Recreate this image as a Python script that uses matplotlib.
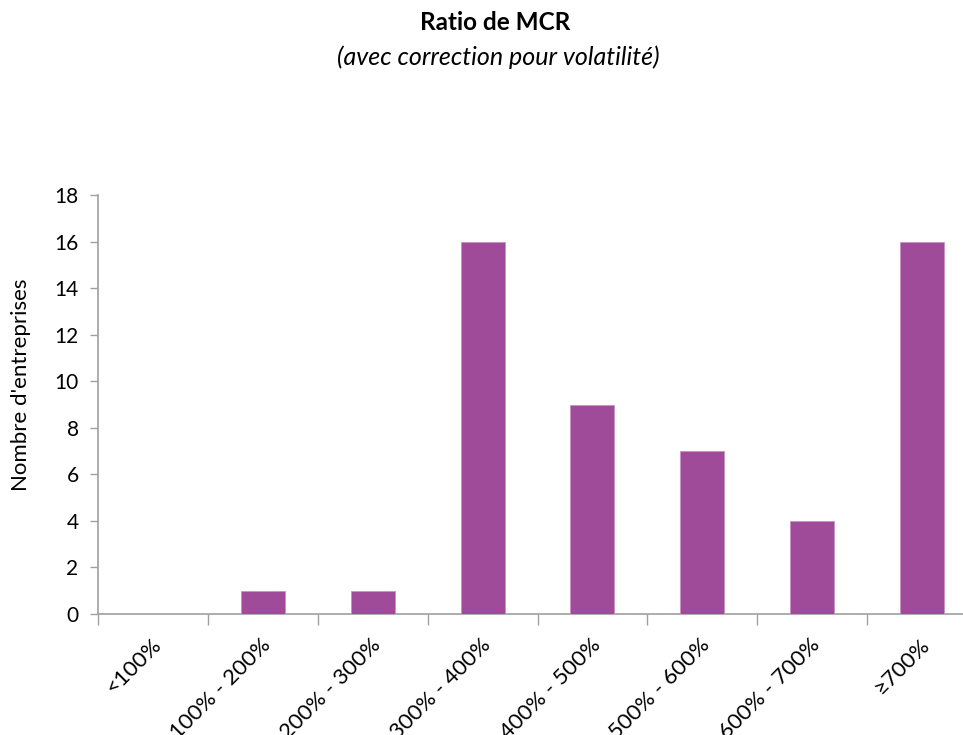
import matplotlib
matplotlib.use("Agg")
import matplotlib.pyplot as plt
import numpy as np

categories = ["<100%", "100% - 200%", "200% - 300%", "300% - 400%",
              "400% - 500%", "500% - 600%", "600% - 700%", "≥700%"]
values = [0, 1, 1, 16, 9, 7, 4, 16]

plt.rcParams['font.family'] = ['Lato', 'DejaVu Sans']

fig = plt.figure(figsize=(9.63, 7.35), dpi=100)
ax = fig.add_axes([98/963, 1-614/735, (977-98)/963, (614-195)/735])

x = np.arange(len(categories))
ax.bar(x, values, width=0.4, color="#A04A9A", edgecolor="#C990C4", linewidth=0.6, zorder=3)

ax.set_xlim(-0.5, len(categories) - 0.5)
ax.set_ylim(0, 18)
ax.set_yticks(np.arange(0, 19, 2))
ax.tick_params(axis='y', labelsize=15, length=6, color="#A0A0A0", width=1, pad=8)

ax.set_xticks(np.arange(-0.5, len(categories) - 0.5 + 0.01, 1.0))
ax.set_xticklabels([])
ax.tick_params(axis='x', length=8, color="#A0A0A0", width=1)
for xi, lab in zip(x, categories):
    ax.annotate(lab, xy=(xi - 0.02, 0), xycoords='data', xytext=(0, -15),
                textcoords='offset points', rotation=45, ha='right', va='top',
                rotation_mode='anchor', fontsize=16)

for s in ['top', 'right']:
    ax.spines[s].set_visible(False)
for s in ['left', 'bottom']:
    ax.spines[s].set_color("#A0A0A0")
    ax.spines[s].set_linewidth(1.2)

ax.set_ylabel("Nombre d'entreprises", fontsize=16)
ax.yaxis.set_label_coords(-0.076, 0.547)

fig.text(495/963, 1-23/735, "Ratio de MCR", ha='center', va='center', fontsize=17.5, fontweight='bold')
fig.text(498/963, 1-57/735, "(avec correction pour volatilité)", ha='center', va='center',
         fontsize=18, fontstyle='italic')

fig.savefig("out.png", dpi=100)
